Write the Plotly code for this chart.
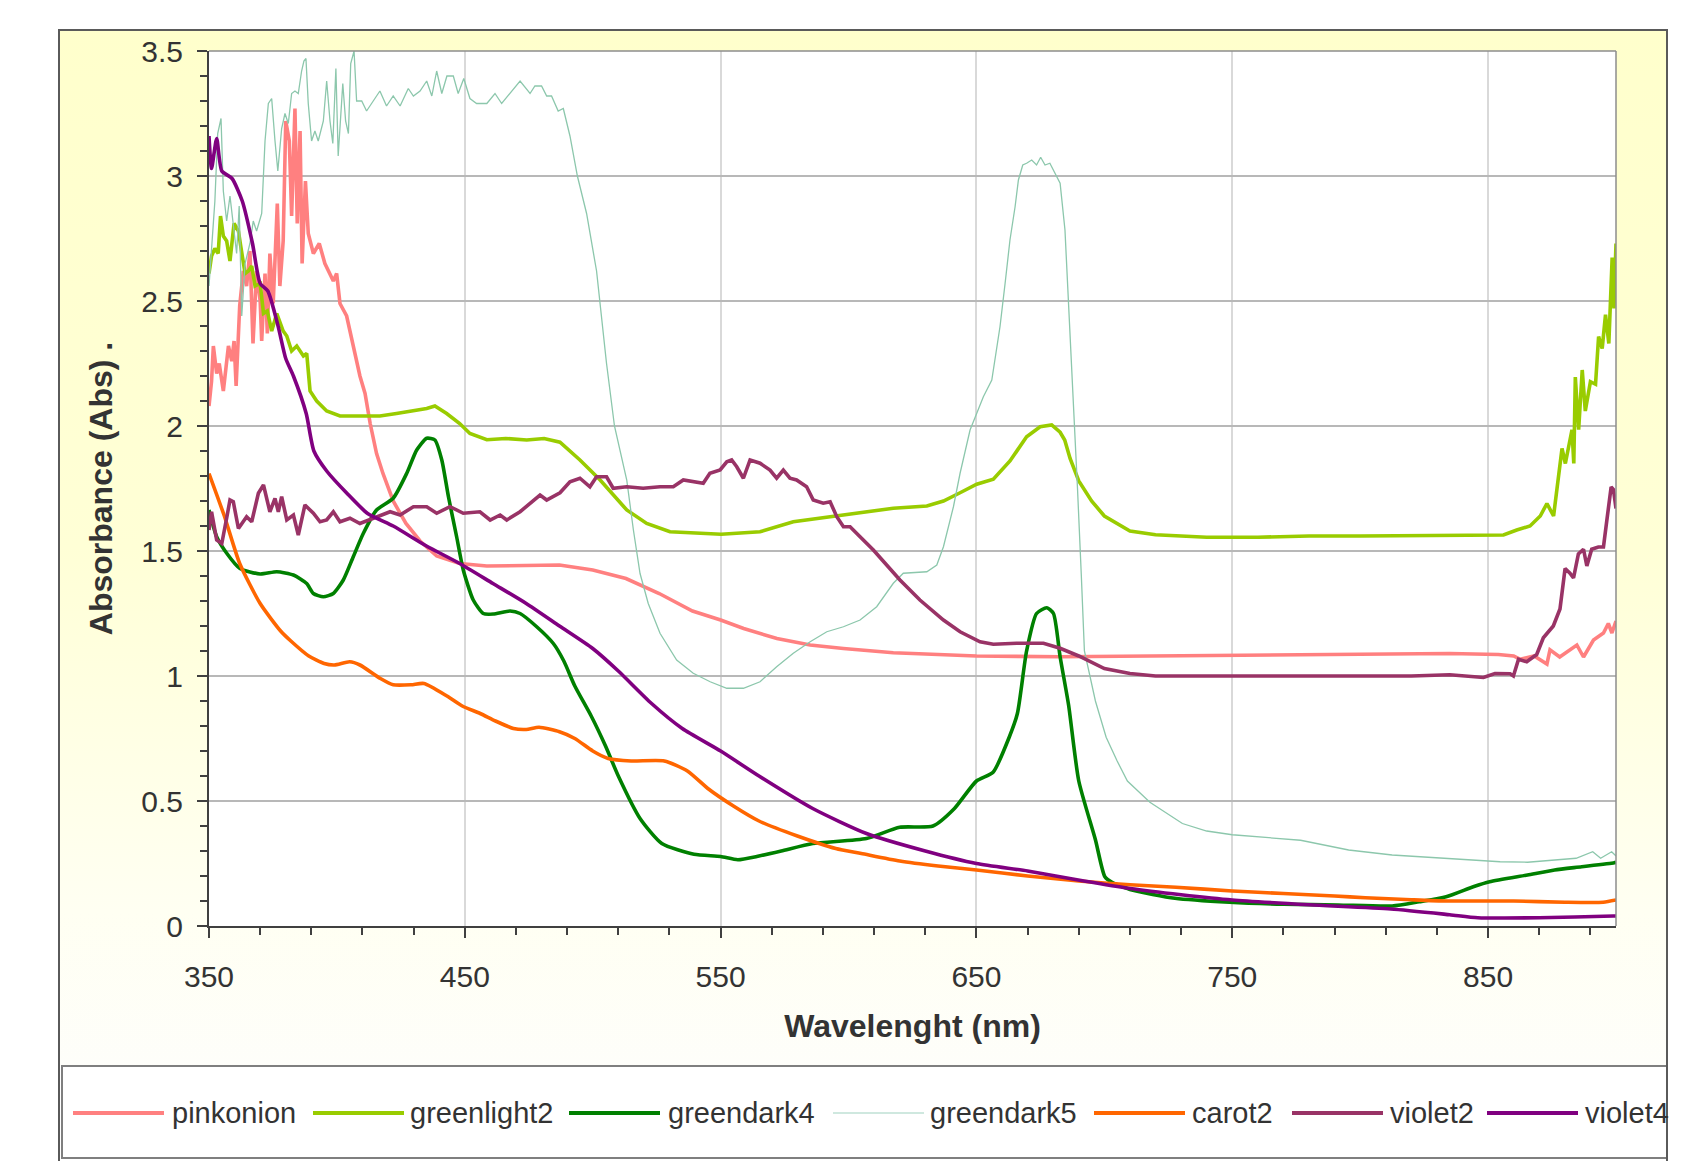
import base64
import plotly.graph_objects as go

# ---------------- data ----------------
pinkonion_nm = [350, 351, 351.7, 353, 354, 355.6, 357.6, 358.9, 359.8, 360.6, 362, 363.4, 364.7, 366, 367.2,
                368.6, 370, 370.6, 371.9, 372.8, 373.8, 375.1, 376.7, 377.7, 379, 380, 381.4, 382.3, 383.6, 384.5,
                385.6, 386.4, 387.7, 388.8, 390.8, 393.1, 395.3, 396.6, 398.6, 399.9, 401.2, 403.8, 406.4, 409,
                411, 413, 415.5, 418, 422, 427, 432.5, 439, 448, 458.6, 487, 500, 513, 526, 539, 550, 559, 572,
                585, 598, 617.5, 650, 683, 720, 760, 800, 835, 854, 860, 862.6, 868, 873, 874.2, 878, 884.7,
                887.3, 891.2, 895.1, 897, 898.4, 900]
pinkonion_abs = [2.08, 2.18, 2.32, 2.21, 2.25, 2.14, 2.32, 2.26, 2.34, 2.16, 2.48, 2.62, 2.56, 2.70, 2.33,
                 2.62, 2.50, 2.34, 2.61, 2.37, 2.69, 2.49, 2.89, 2.56, 2.74, 3.22, 3.14, 2.84, 3.27, 2.81,
                 3.18, 2.65, 2.98, 2.77, 2.69, 2.73, 2.65, 2.62, 2.58, 2.61, 2.49, 2.44, 2.32, 2.20,
                 2.13, 2.01, 1.89, 1.81, 1.70, 1.61, 1.54, 1.48, 1.45, 1.44, 1.444, 1.424, 1.39, 1.33, 1.26, 1.224,
                 1.19, 1.15, 1.124, 1.11, 1.093, 1.08, 1.077, 1.08, 1.085, 1.09, 1.09, 1.086, 1.08, 1.067, 1.08,
                 1.048, 1.105, 1.076, 1.124, 1.076, 1.144, 1.172, 1.21, 1.172, 1.22]

greenlight2_nm = [350, 351, 352.3, 353.6, 354.5, 355.6, 356.9, 358.2, 359.8, 361.5, 362.4, 364.1, 365.4, 366.7,
                  368, 370, 371.3, 372.8, 374.5, 376.5, 379, 380.4, 382.3, 384.3, 386.9, 388.2, 389.5, 392.1,
                  396, 401.2, 406.4, 411.6, 416.8, 423.3, 429.9, 435.1, 438.3, 442.9, 448, 452, 458.6, 466,
                  474.2, 481, 487.2, 495, 502.9, 513.3, 521.1, 530.2, 550.2, 565.4, 578.4, 591.5, 604.5, 617.5,
                  630.6, 637.1, 643.6, 650.1, 656.6, 663.1, 669.6, 674.9, 679.4, 682.7, 684.5, 686.6, 690, 695,
                  700, 710, 720, 740, 760, 780, 800, 820, 835, 856, 861.2, 866.4, 870.4, 873, 875.6, 877, 878.9,
                  880.2, 881.5, 882.8, 883.5, 884.1, 885.4, 886.8, 888, 890, 892, 893.2, 894.6, 895.9, 897.2,
                  898.5, 899.2, 900]
greenlight2_abs = [2.61, 2.68, 2.71, 2.69, 2.84, 2.76, 2.74, 2.66, 2.81, 2.78, 2.72, 2.61, 2.62, 2.64,
                   2.56, 2.57, 2.45, 2.46, 2.38, 2.45, 2.38, 2.36, 2.30, 2.32, 2.28, 2.29, 2.14, 2.10,
                   2.06, 2.04, 2.04, 2.04, 2.04, 2.05, 2.06, 2.07, 2.08, 2.05, 2.01, 1.97, 1.945, 1.95,
                   1.944, 1.95, 1.935, 1.864, 1.784, 1.664, 1.61, 1.577, 1.567, 1.577, 1.617, 1.635, 1.651, 1.671,
                   1.68, 1.70, 1.733, 1.767, 1.787, 1.86, 1.957, 1.997, 2.004, 1.975, 1.944, 1.87, 1.78, 1.70,
                   1.64, 1.58, 1.565, 1.555, 1.555, 1.56, 1.56, 1.562, 1.564, 1.564, 1.584, 1.60, 1.64, 1.69, 1.64,
                   1.756, 1.91, 1.85, 1.92, 1.985, 1.85, 2.196, 1.985, 2.224, 2.06, 2.177, 2.167, 2.358, 2.31,
                   2.445, 2.33, 2.674, 2.47, 2.73]

greendark4_nm = [350, 353, 357, 362.1, 370, 376.5, 383, 388.2, 390.8, 394.7, 398.6, 402.5, 406.4, 410.3, 415.5,
                 422, 427.3, 431.2, 435.1, 438.3, 441, 443.6, 446.8, 449.4, 453.3, 457.2, 461.1, 467.7, 471.6,
                 478.1, 484.6, 488.7, 493, 499.4, 505, 510, 518.5, 527, 539.6, 550, 556.7, 565, 573.7, 586, 607,
                 620, 633, 641.4, 650, 656.5, 662.8, 666, 669.6, 673.5, 677.5, 680.1, 682.7, 686, 690, 696.5,
                 700.2, 703, 710.8, 727.6, 748.9, 770.1, 791.3, 812.5, 823, 833.6, 844.2, 850.6, 865.4, 876,
                 886.6, 899.3, 900]
greendark4_abs = [1.664, 1.557, 1.49, 1.43, 1.408, 1.417, 1.404, 1.37, 1.33, 1.317, 1.33, 1.384, 1.477, 1.57, 1.664,
                  1.711, 1.811, 1.904, 1.951, 1.944, 1.864, 1.717, 1.557, 1.424, 1.304, 1.25, 1.248, 1.26, 1.25,
                  1.197, 1.13, 1.06, 0.96, 0.84, 0.72, 0.60, 0.43, 0.33, 0.287, 0.278, 0.265, 0.28, 0.30, 0.33, 0.35,
                  0.395, 0.40, 0.47, 0.58, 0.615, 0.755, 0.85, 1.10, 1.25, 1.273, 1.25, 1.077, 0.885, 0.58, 0.345,
                  0.197, 0.175, 0.144, 0.111, 0.095, 0.087, 0.084, 0.08, 0.097, 0.117, 0.157, 0.177, 0.204, 0.224,
                  0.237, 0.253, 0.255]

greendark5_nm = [350, 351, 352.3, 353.4, 354.7, 355.6, 356.9, 358.2, 359.5, 360.8, 361.8, 362.8, 364.1, 366,
                 367.3, 368.6, 370.6, 371.9, 373.2, 374.5, 375.8, 376.9, 378.4, 379.7, 381, 382.3, 383.6, 384.9,
                 386.2, 387.1, 387.9, 388.8, 390.1, 391.4, 392.7, 394.7, 396, 397.3, 398.4, 399.6, 400.5, 402.3,
                 403.4, 404.5, 405.4, 406.7, 407.7, 409.7, 411.6, 414.2, 416.8, 419.4, 422, 424.7, 427.9, 429.9,
                 432.5, 435.1, 437.1, 439, 441, 443, 445.5, 447.4, 449.6, 452, 454.6, 458.6, 461.8, 464.4, 467.7,
                 471.6, 475.5, 477.4, 480, 482, 483.9, 486.5, 488.5, 491.1, 494, 497.6, 501.5, 505.4, 508.5,
                 513.3, 515.9, 518.5, 521.7, 526.3, 532.8, 539.3, 545.9, 552.4, 558.9, 565.4, 571.9, 578.4, 585,
                 591.5, 598, 604.5, 611, 617.5, 621.4, 630.6, 634.5, 637.1, 641, 643.6, 647.5, 650.1, 652.7, 656,
                 659.2, 661.2, 663.1, 665.1, 666.4, 668.1, 669.6, 671.6, 673.5, 675.1, 676.8, 678.7, 680.7, 682.7,
                 684.6, 685.9, 687.3, 688.5, 689.5, 691, 692.2, 696.5, 700.7, 705, 709, 717.8, 730.5, 740, 750,
                 776.7, 795.5, 812.5, 833.6, 854.7, 865.4, 876, 884.4, 890.9, 894, 898.3, 900]
greendark5_abs = [2.56, 2.72, 2.90, 3.17, 3.23, 2.94, 2.82, 2.92, 2.80, 2.69, 2.88, 2.44, 2.65, 2.73,
                  2.82, 2.78, 2.85, 3.14, 3.29, 3.31, 3.14, 3.02, 3.19, 3.25, 3.21, 3.33, 3.34, 3.33,
                  3.42, 3.46, 3.47, 3.29, 3.14, 3.18, 3.14, 3.22, 3.38, 3.22, 3.13, 3.43, 3.08, 3.37,
                  3.22, 3.17, 3.45, 3.50, 3.30, 3.30, 3.26, 3.30, 3.34, 3.28, 3.32, 3.28, 3.35, 3.32,
                  3.34, 3.38, 3.32, 3.42, 3.33, 3.40, 3.40, 3.33, 3.39, 3.31, 3.29, 3.29, 3.33, 3.29, 3.33,
                  3.38, 3.33, 3.36, 3.36, 3.32, 3.32, 3.26, 3.27, 3.16, 3.00, 2.85, 2.62, 2.25, 2.00,
                  1.784, 1.584, 1.41, 1.29, 1.171, 1.064, 1.011, 0.977, 0.951, 0.951, 0.977, 1.037, 1.091, 1.137,
                  1.177, 1.197, 1.224, 1.277, 1.371, 1.411, 1.417, 1.444, 1.517, 1.677, 1.811, 1.984, 2.051, 2.117,
                  2.184, 2.397, 2.571, 2.744, 2.877, 2.984, 3.044, 3.051, 3.064, 3.044, 3.075, 3.044, 3.051, 3.011,
                  2.971, 2.784, 2.517, 2.251, 1.984, 1.75, 1.40, 1.10, 0.90, 0.755, 0.66, 0.58, 0.495, 0.41, 0.38,
                  0.365, 0.343, 0.304, 0.284, 0.271, 0.257, 0.255, 0.264, 0.271, 0.297, 0.271, 0.297, 0.28]

carot2_nm = [350, 356, 362, 370, 378, 382, 389, 395, 399, 405, 409, 417, 422, 429, 434, 443, 449, 456, 462,
             469, 474, 479, 487, 493, 500, 506, 515, 528, 537, 545, 555, 565, 580, 595, 605, 620, 635, 650, 670,
             690, 710, 728, 750, 770, 790, 802, 820, 834, 860, 880, 895, 900]
carot2_abs = [1.81, 1.64, 1.45, 1.29, 1.18, 1.14, 1.08, 1.05, 1.044, 1.057, 1.044, 0.99, 0.965, 0.965, 0.97,
              0.92, 0.88, 0.85, 0.82, 0.79, 0.786, 0.795, 0.777, 0.75, 0.70, 0.67, 0.66, 0.66, 0.62, 0.55, 0.48,
              0.42, 0.36, 0.31, 0.29, 0.26, 0.24, 0.224, 0.20, 0.18, 0.165, 0.155, 0.14, 0.13, 0.12, 0.113,
              0.105, 0.10, 0.10, 0.095, 0.095, 0.104]

violet2_nm = [350, 351, 353, 355, 357, 358.2, 359.5, 361.5, 364.7, 366.7, 369.3, 371.3, 373.8, 375.8, 377.1,
              378.4, 380.4, 383, 384.9, 387.5, 390.8, 393.4, 396, 398.6, 401.2, 405.1, 409, 414.2, 420.8, 424.7,
              429.9, 435.1, 439, 444.2, 449.4, 455.9, 459.9, 463.8, 466.4, 471.6, 479.4, 482, 487.2, 491.1, 495,
              498.9, 501.5, 505.4, 508, 513.3, 519.7, 526.3, 531.5, 535.4, 539.3, 543.2, 545.8, 549.8, 552.4,
              554.3, 556.3, 558.9, 561.5, 565.4, 569.3, 571.9, 574.5, 577.1, 579.7, 583.6, 586.2, 590.1, 592.8,
              595.4, 598, 600.6, 604.5, 609.7, 614.9, 620.1, 627.9, 637.1, 643.6, 651.4, 656.6, 665.7, 676.2,
              682.7, 690, 700, 710, 720, 740, 760, 780, 800, 820, 835, 848.2, 852.7, 858.6, 859.9, 861.9, 865.1,
              869, 871.6, 875.5, 878.1, 880.1, 882, 883.4, 885.3, 887.3, 888.6, 890.5, 893.1, 895.1, 896.4,
              898.1, 899, 900]
violet2_abs = [1.584, 1.657, 1.544, 1.53, 1.637, 1.704, 1.697, 1.59, 1.637, 1.617, 1.731, 1.764, 1.657, 1.71, 1.657,
               1.717, 1.624, 1.644, 1.564, 1.684, 1.651, 1.617, 1.624, 1.657, 1.617, 1.631, 1.61, 1.631, 1.657, 1.644,
               1.677, 1.677, 1.651, 1.677, 1.651, 1.657, 1.624, 1.644, 1.624, 1.657, 1.724, 1.704, 1.733, 1.777, 1.791,
               1.757, 1.797, 1.797, 1.751, 1.757, 1.751, 1.757, 1.757, 1.784, 1.777, 1.771, 1.811, 1.824, 1.857,
               1.864, 1.837, 1.791, 1.864, 1.851, 1.824, 1.791, 1.824, 1.791, 1.784, 1.757, 1.704, 1.691, 1.697,
               1.637, 1.597, 1.597, 1.557, 1.504, 1.444, 1.384, 1.304, 1.224, 1.177, 1.137, 1.127, 1.131, 1.131,
               1.111, 1.08, 1.03, 1.01, 1.0, 1.0, 1.0, 1.0, 1.0, 1.0, 1.005, 0.994, 1.01, 1.009, 1.0, 1.067, 1.057,
               1.086, 1.153, 1.2, 1.268, 1.43, 1.411, 1.392, 1.488, 1.507, 1.44, 1.507, 1.516, 1.516, 1.621,
               1.756, 1.746, 1.67]

violet4_nm = [350, 351, 353, 355, 359, 363, 367, 370, 373, 377, 380, 383, 388, 391, 396, 404, 412, 422, 435, 448,
              461, 474, 487, 500, 510, 523, 535, 550, 565, 586, 607, 630, 650, 670, 692, 710, 730, 750, 780, 812,
              835, 846, 870, 899, 900]
violet4_abs = [3.16, 3.03, 3.15, 3.02, 2.99, 2.90, 2.73, 2.57, 2.54, 2.40, 2.27, 2.20, 2.05, 1.90, 1.82, 1.73, 1.65,
               1.60, 1.52, 1.45, 1.37, 1.29, 1.20, 1.11, 1.02, 0.89, 0.79, 0.70, 0.60, 0.47, 0.37, 0.30, 0.25, 0.22,
               0.18, 0.15, 0.125, 0.104, 0.085, 0.068, 0.045, 0.033, 0.033, 0.04, 0.04]

series_names = ["pinkonion", "greenlight2", "greendark4", "greendark5", "carot2", "violet2", "violet4"]
series_x = [pinkonion_nm, greenlight2_nm, greendark4_nm, greendark5_nm, carot2_nm, violet2_nm, violet4_nm]
series_y = [pinkonion_abs, greenlight2_abs, greendark4_abs, greendark5_abs, carot2_abs, violet2_abs, violet4_abs]

x_ticks = [350, 450, 550, 650, 750, 850]
y_ticks = [0, 0.5, 1, 1.5, 2, 2.5, 3, 3.5]
x_title = "Wavelenght (nm)"
y_title = "Absorbance (Abs) ."

# ---------------- styles ----------------
colors = ["#FF8080", "#99CC00", "#008000", "#8CC7AC", "#FF6600", "#993366", "#800080"]
widths = [3.6, 3.6, 3.6, 1.3, 3.6, 3.6, 3.6]
shapes_line = ["linear", "linear", "spline", "linear", "spline", "linear", "spline"]

W, H = 1700, 1161
L, R, T, B = 209, 1616, 51, 926


def px(x):
    return (x - L) / (R - L)


def py(y):
    return (B - y) / (B - T)


FONT = "Liberation Sans, Arial, sans-serif"
TXT = "#333333"
AX = "#404040"

fig = go.Figure()
for name, xs, ys, c, w, sh in zip(series_names, series_x, series_y, colors, widths, shapes_line):
    fig.add_trace(go.Scatter(x=xs, y=ys, mode="lines", name=name,
                             line=dict(color=c, width=w, shape=sh, smoothing=0.6) if sh == "spline"
                             else dict(color=c, width=w),
                             showlegend=False, hoverinfo="x+y+name"))

# gradient chart background (svg image)
svg = ('<svg xmlns="http://www.w3.org/2000/svg" width="100" height="100" preserveAspectRatio="none">'
       '<defs><linearGradient id="g" x1="0" y1="0" x2="0" y2="1">'
       '<stop offset="0" stop-color="#FFFFCC"/><stop offset="0.5" stop-color="#FFFFD6"/>'
       '<stop offset="0.85" stop-color="#FFFFF2"/><stop offset="1" stop-color="#FEFEFA"/>'
       '</linearGradient></defs><rect width="100" height="100" fill="url(#g)"/></svg>')
src = "data:image/svg+xml;base64," + base64.b64encode(svg.encode()).decode()
fx0, fy0, fx1, fy1 = 59, 30, 1667, 1066
images = [dict(source=src, xref="paper", yref="paper", x=px(fx0), y=py(fy0),
               sizex=px(fx1) - px(fx0), sizey=py(fy0) - py(fy1), xanchor="left", yanchor="top",
               sizing="stretch", layer="below")]

shapes = [
    dict(type="rect", xref="paper", yref="paper", x0=0, x1=1, y0=0, y1=1,
         fillcolor="white", line=dict(width=0), layer="below"),
    dict(type="line", xref="paper", yref="paper", x0=0, x1=1, y0=1, y1=1,
         line=dict(color="#8C8C8C", width=1.5), layer="above"),
    dict(type="line", xref="paper", yref="paper", x0=1, x1=1, y0=0, y1=1,
         line=dict(color="#8C8C8C", width=1.5), layer="above"),
    dict(type="rect", xref="paper", yref="paper", x0=px(62), x1=px(1667), y0=py(1158), y1=py(1066),
         fillcolor="white", line=dict(color="#7F7F7F", width=2), layer="below"),
    dict(type="rect", xref="paper", yref="paper", x0=px(59), x1=px(1667), y0=py(1175), y1=py(30),
         line=dict(color="#5A5A5A", width=2), layer="below"),
]

annotations = []
leg_line_x = [73, 313, 569, 833, 1094, 1292, 1487]
leg_line_len = 91
leg_text_x = [170, 408, 666, 928, 1190, 1388, 1583]
leg_y = 1113
for name, c, w, lx, tx in zip(series_names, colors, widths, leg_line_x, leg_text_x):
    thin = name == "greendark5"
    shapes.append(dict(type="line", xref="paper", yref="paper", x0=px(lx), x1=px(lx + leg_line_len),
                       y0=py(leg_y), y1=py(leg_y),
                       line=dict(color="#BFE0D4" if thin else c, width=1.6 if thin else 4)))
    annotations.append(dict(text=name, xref="paper", yref="paper", x=px(tx), y=py(leg_y),
                            xanchor="left", yanchor="middle", showarrow=False,
                            font=dict(family=FONT, size=29, color=TXT)))

axis_common = dict(showline=True, linecolor=AX, linewidth=2, ticks="outside", ticklen=10, tickwidth=1.5,
                   tickcolor=AX, zeroline=False, tickfont=dict(family=FONT, size=30, color=TXT))

fig.update_layout(
    width=W, height=H,
    margin=dict(l=L, r=W - R, t=T, b=H - B, autoexpand=False),
    paper_bgcolor="white", plot_bgcolor="white",
    showlegend=False,
    images=images, shapes=shapes, annotations=annotations,
    xaxis=dict(range=[350, 900], tickvals=x_ticks, showgrid=True, gridcolor="#D9D9D9", gridwidth=2,
               minor=dict(ticks="outside", ticklen=7, tickwidth=1.5, tickcolor=AX, dtick=20, tick0=350,
                          showgrid=False),
               ticklabelstandoff=13,
               title=dict(text="<b>%s</b>" % x_title, font=dict(family=FONT, size=32, color=TXT), standoff=23),
               **axis_common),
    yaxis=dict(range=[0, 3.5], tickvals=y_ticks, showgrid=True, gridcolor="#B8B8B8", gridwidth=1.5,
               minor=dict(ticks="outside", ticklen=7, tickwidth=1.5, tickcolor=AX, dtick=0.1, tick0=0,
                          showgrid=False),
               ticklabelstandoff=8,
               title=dict(text="<b>%s</b>" % y_title, font=dict(family=FONT, size=32, color=TXT), standoff=19),
               **axis_common),
    xaxis2=dict(overlaying="x", anchor="y", side="bottom", range=[350, 900], tickvals=x_ticks,
                ticks="inside", ticklen=10, tickwidth=1.5, tickcolor=AX, showticklabels=False,
                showgrid=False, zeroline=False, showline=False),
    yaxis2=dict(overlaying="y", anchor="x", side="left", range=[0, 3.5], tickvals=y_ticks,
                ticks="inside", ticklen=10, tickwidth=1.5, tickcolor=AX, showticklabels=False,
                showgrid=False, zeroline=False, showline=False),
)

fig.write_html("out.html", config={"displayModeBar": False},
               post_script="document.body.style.margin='0px';document.body.style.overflow='hidden';")
